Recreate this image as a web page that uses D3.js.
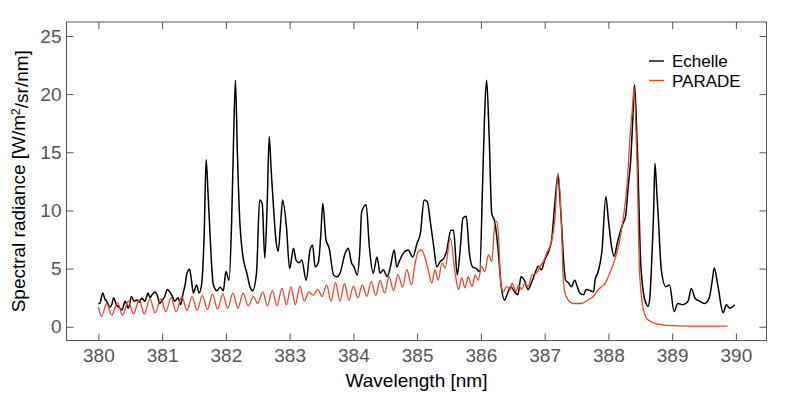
<!DOCTYPE html>
<html><head><meta charset="utf-8">
<script src="https://cdn.jsdelivr.net/npm/d3@7"></script>
<style>
html,body{margin:0;padding:0;background:#fff;}
svg text{font-family:"Liberation Sans",Arial,Helvetica,sans-serif;}
</style></head>
<body><svg id="c" width="789" height="395"></svg>
<script>
// ---- data ----
const xTicks = [380,381,382,383,384,385,386,387,388,389,390];
const yTicks = [0,5,10,15,20,25];
const seriesNames = ["Echelle","PARADE"];
const seriesColors = ["#000000","#e8452f"];

const echelleWl = [380.00,380.02,380.07,380.10,380.13,380.18,380.21,380.24,380.28,380.31,380.37,380.42,380.47,380.52,380.56,380.60,380.64,380.68,380.73,380.78,380.81,380.84,380.89,380.93,380.96,380.99,381.04,381.08,381.12,381.15,381.20,381.25,381.29,381.33,381.36,381.39,381.43,381.46,381.49,381.54,381.58,381.62,381.66,381.69,381.72,381.75,381.78,381.80,381.86,381.91,381.96,382.00,382.05,382.09,382.12,382.15,382.18,382.22,382.26,382.33,382.38,382.42,382.48,382.53,382.57,382.61,382.65,382.68,382.71,382.74,382.79,382.82,382.86,382.89,382.95,383.00,383.06,383.10,383.15,383.19,383.26,383.32,383.36,383.40,383.45,383.49,383.52,383.57,383.62,383.69,383.74,383.79,383.87,383.92,383.97,384.01,384.06,384.10,384.13,384.20,384.25,384.31,384.37,384.42,384.47,384.53,384.58,384.64,384.68,384.73,384.80,384.86,384.93,385.00,385.05,385.11,385.16,385.21,385.26,385.31,385.36,385.42,385.46,385.53,385.57,385.63,385.67,385.72,385.77,385.82,385.87,385.93,385.98,386.03,386.06,386.09,386.13,386.17,386.22,386.27,386.32,386.37,386.42,386.47,386.53,386.58,386.63,386.68,386.74,386.79,386.85,386.90,386.95,387.00,387.06,387.11,387.16,387.21,387.24,387.27,387.30,387.33,387.37,387.42,387.47,387.51,387.55,387.61,387.65,387.72,387.77,387.79,387.84,387.90,387.96,388.00,388.05,388.09,388.14,388.18,388.23,388.27,388.31,388.35,388.38,388.41,388.44,388.46,388.50,388.55,388.59,388.62,388.65,388.68,388.71,388.73,388.76,388.78,388.83,388.90,388.96,389.03,389.09,389.17,389.25,389.30,389.36,389.43,389.51,389.58,389.63,389.66,389.72,389.80,389.85,389.90,389.98];
const echelleVal = [2.0,2.0,2.9,2.4,2.2,1.7,1.9,2.5,1.9,1.75,1.45,2.2,1.6,2.6,2.2,2.3,2.1,2.45,2.2,2.9,2.5,2.75,3.0,2.6,2.0,2.2,2.6,3.2,3.0,2.75,2.2,2.5,1.9,2.9,3.6,4.6,4.95,4.0,2.9,3.6,2.9,3.7,8.0,14.35,11.5,8.1,5.0,3.7,3.1,3.4,3.1,4.75,4.0,9.0,16.0,21.2,15.0,8.9,6.35,4.6,3.4,3.1,4.6,10.9,10.6,5.9,11.0,16.35,13.5,10.9,7.2,6.5,9.0,10.9,8.6,5.0,6.75,5.75,5.5,5.75,4.0,6.6,7.0,5.15,5.5,8.0,10.6,7.5,6.75,4.45,4.3,4.6,6.3,6.75,5.5,5.15,4.45,6.5,9.9,10.5,6.9,4.6,6.0,4.6,4.9,4.3,5.15,6.6,5.15,5.75,6.45,6.6,6.0,7.2,8.0,10.9,10.75,8.9,6.9,5.15,5.6,5.9,6.45,8.3,8.3,4.45,6.3,9.35,9.5,6.3,5.15,5.0,4.75,12.9,18.5,21.2,16.35,9.75,9.0,6.6,3.45,2.3,2.9,3.45,3.0,2.75,4.3,4.0,3.2,3.75,4.6,5.2,4.9,5.75,6.45,7.5,10.6,13.05,11.0,8.35,5.5,4.0,3.8,3.45,4.0,3.5,2.9,2.75,3.2,3.1,3.0,4.0,4.75,6.6,11.2,9.2,6.9,6.05,7.2,8.05,8.9,9.5,12.0,14.35,17.5,20.8,17.5,14.35,6.3,2.9,2.0,1.75,2.5,5.75,10.0,14.05,11.5,9.7,4.9,3.45,3.6,1.3,2.0,1.9,2.2,3.3,2.45,2.2,2.0,2.45,4.0,5.05,3.45,1.2,1.9,1.6,1.9];

const paradeWl = [380.00,380.05,380.13,380.21,380.30,380.38,380.47,380.55,380.64,380.72,380.81,380.89,380.98,381.06,381.14,381.22,381.31,381.39,381.47,381.55,381.63,381.71,381.79,381.87,381.95,382.03,382.11,382.19,382.27,382.35,382.43,382.50,382.58,382.65,382.73,382.80,382.88,382.95,383.02,383.09,383.16,383.23,383.30,383.37,383.44,383.51,383.58,383.65,383.72,383.79,383.86,383.93,384.00,384.07,384.14,384.21,384.28,384.35,384.42,384.49,384.56,384.63,384.70,384.77,384.84,384.91,384.97,385.02,385.07,385.12,385.17,385.23,385.28,385.33,385.39,385.44,385.52,385.60,385.65,385.70,385.75,385.80,385.86,385.91,385.96,386.01,386.06,386.12,386.17,386.22,386.25,386.28,386.31,386.35,386.40,386.46,386.49,386.55,386.59,386.64,386.69,386.74,386.80,386.87,386.93,386.98,387.03,387.10,387.16,387.21,387.27,387.29,387.32,387.37,387.45,387.58,387.68,387.76,387.84,387.95,388.02,388.10,388.18,388.23,388.29,388.34,388.39,388.40,388.45,388.49,388.55,388.62,388.76,389.01,389.44,389.87];
const paradeVal = [1.7,0.9,2.0,1.0,2.1,1.0,2.2,1.1,2.3,1.1,2.4,1.2,2.4,1.3,2.5,1.3,2.6,1.4,2.6,1.4,2.7,1.5,2.8,1.5,2.8,1.6,2.9,1.6,2.9,1.8,2.6,2.0,3.0,1.8,3.1,1.8,3.3,1.9,3.4,1.9,3.5,2.2,3.0,2.7,3.2,2.6,3.6,2.2,3.8,2.2,3.7,2.3,3.5,2.5,3.6,2.6,3.9,2.7,4.0,2.9,4.3,3.1,4.5,3.4,4.9,3.6,5.5,6.5,6.6,6.0,5.0,3.75,4.9,4.0,5.5,5.05,7.6,4.45,3.2,4.2,3.35,4.3,3.45,4.45,4.0,5.2,4.75,6.2,5.6,8.9,9.05,7.5,3.75,3.0,3.45,3.2,3.75,3.0,3.6,3.2,3.75,3.45,4.45,4.6,5.2,5.6,6.3,7.2,9.2,13.2,7.75,4.3,2.9,2.3,2.0,2.0,2.3,2.6,3.2,3.75,4.6,5.75,7.5,9.2,12.05,16.35,19.8,20.65,13.8,4.6,1.45,0.6,0.25,0.1,0.06,0.05];

// ---- chart ----
const svg = d3.select("#c");
const L = 66.5, R = 766.5, T = 22, B = 340.5;
const x = d3.scaleLinear().domain([379.5, 390.48]).range([L, R]);
const y = d3.scaleLinear().domain([-1.18, 26.2]).range([B, T]);
const axisColor = "#555";
const tickLen = 7;

const gx = svg.append("g").attr("transform", `translate(0,${B})`)
  .call(d3.axisBottom(x).tickValues(xTicks).tickSize(-tickLen).tickPadding(8).tickFormat(d3.format("d")));
const gxt = svg.append("g").attr("transform", `translate(0,${T})`)
  .call(d3.axisTop(x).tickValues(xTicks).tickSize(-tickLen).tickFormat(""));
const gy = svg.append("g").attr("transform", `translate(${L},0)`)
  .call(d3.axisLeft(y).tickValues(yTicks).tickSize(-tickLen).tickPadding(5).tickFormat(d3.format("d")));
const gyr = svg.append("g").attr("transform", `translate(${R},0)`)
  .call(d3.axisRight(y).tickValues(yTicks).tickSize(-tickLen).tickFormat(""));
[gx,gxt,gy,gyr].forEach(g => {
  g.select(".domain").remove();
  g.selectAll(".tick line").attr("stroke", axisColor).attr("stroke-width", 1);
  g.selectAll(".tick text").attr("fill", "#555").style("font-size", "19px");
});

svg.append("rect").attr("x", L).attr("y", T).attr("width", R - L).attr("height", B - T)
  .attr("fill", "none").attr("stroke", axisColor).attr("stroke-width", 1);

svg.append("clipPath").attr("id","clp").append("rect")
  .attr("x", L).attr("y", T).attr("width", R-L).attr("height", B-T);

const line = d3.line().curve(d3.curveMonotoneX).x(d => x(d[0])).y(d => y(d[1]));
const parade = paradeWl.map((w,i) => [w, paradeVal[i]]);
const echelle = echelleWl.map((w,i) => [w, echelleVal[i]]);
const plot = svg.append("g").attr("clip-path","url(#clp)");
plot.append("path").datum(echelle).attr("d", line).attr("fill","none")
  .attr("stroke", seriesColors[0]).attr("stroke-width", 1.5).attr("stroke-linejoin","round");
plot.append("path").datum(parade).attr("d", line).attr("fill","none")
  .attr("stroke", seriesColors[1]).attr("stroke-width", 1.3).attr("stroke-linejoin","round");

// legend
const lg = svg.append("g");
seriesNames.forEach((n,i) => {
  const yy = 61 + i*19.5;
  lg.append("line").attr("x1", 649).attr("x2", 664).attr("y1", yy).attr("y2", yy)
    .attr("stroke", seriesColors[i]).attr("stroke-width", 1.4);
  lg.append("text").attr("x", 672).attr("y", yy).attr("dy", "0.36em")
    .style("font-size", "17px").attr("fill", "#000").text(n);
});

// axis titles
svg.append("text").attr("x", (L+R)/2).attr("y", 387).attr("text-anchor","middle")
  .style("font-size","19px").attr("fill","#000").text("Wavelength [nm]");
const yt = svg.append("text").attr("transform", `translate(25,${(T+B)/2}) rotate(-90)`)
  .attr("text-anchor","middle").style("font-size","19px").attr("fill","#000");
yt.append("tspan").text("Spectral radiance [W/m");
yt.append("tspan").attr("dy", "-0.45em").style("font-size","12px").text("2");
yt.append("tspan").attr("dy", "0.45em").text("/sr/nm]");
</script></body></html>
